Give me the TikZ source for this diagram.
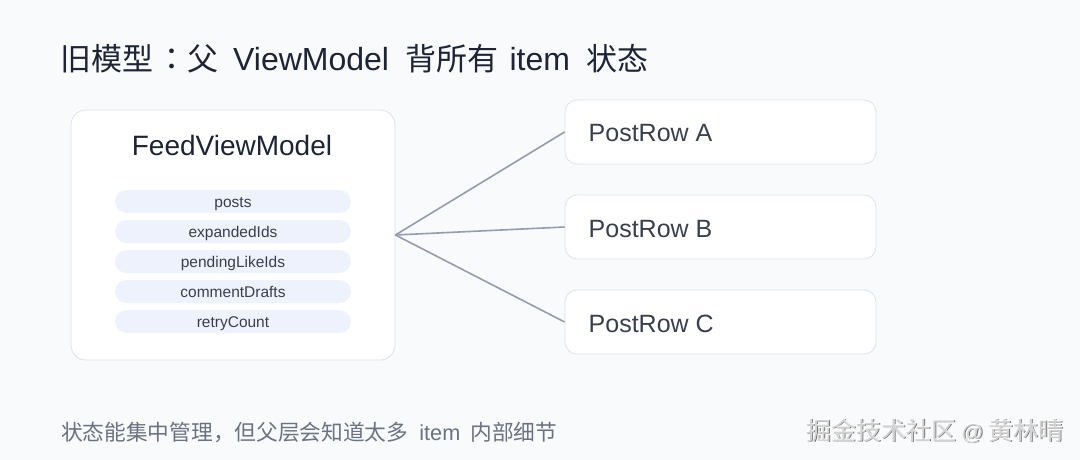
\documentclass[tikz,border=0pt]{standalone}
\usepackage{fontspec}
\setmainfont{Liberation Sans}
\newfontfamily\cjk{Noto Sans CJK SC}
\newfontfamily\cjktc{Noto Sans CJK TC}
\definecolor{bg}{HTML}{F8FAFC}
\definecolor{boxline}{HTML}{DEE2E9}
\definecolor{ink}{HTML}{1E2433}
\definecolor{txt}{HTML}{3A3F4D}
\definecolor{pill}{HTML}{EEF2FD}
\definecolor{conn}{HTML}{969CAE}
\definecolor{foot}{HTML}{6B7280}
\definecolor{wmfill}{HTML}{D2D2D2}
\definecolor{wmshade}{HTML}{6A6A6A}
\tikzset{
  card/.style={draw=boxline, line width=0.8pt, fill=white},
  pillbox/.style={fill=pill, rounded corners=11.5pt, minimum width=236pt, minimum height=23pt,
     inner sep=0pt, text height=11pt, text depth=0pt, font=\fontsize{15.5}{17}\selectfont, text=txt},
  rowbox/.style={card, rounded corners=12pt, minimum width=311pt, minimum height=64pt, inner sep=0pt},
  rowtext/.style={anchor=base west, font=\fontsize{25}{28}\selectfont, text=txt, inner sep=0pt},
  link/.style={draw=conn, line width=1.6pt},
  wmtext/.style={anchor=base east, inner sep=0pt, font=\cjk\fontsize{25}{28}\selectfont},
}
\newcommand{\wmark}{掘金技术社区\hspace{5pt}{\rmfamily\fontsize{22}{26}\selectfont @}\hspace{5pt}黄林晴}
\begin{document}
\begin{tikzpicture}[x=1pt,y=-1pt]
\fill[bg] (0,0) rectangle (1080,460);
\useasboundingbox (0,0) rectangle (1080,460);
% title
\node[anchor=base west, inner sep=0pt, text=ink, font=\fontsize{32}{36}\selectfont] (title) at (60.5,71)
  {{\cjk\fontsize{31}{36}\selectfont 旧模型}\hspace{3pt}{\cjktc\fontsize{31}{36}\selectfont ：}{\cjk\fontsize{31}{36}\selectfont 父}\hspace{14.5pt}ViewModel\hspace{16pt}{\cjk\fontsize{31}{36}\selectfont 背所有}\hspace{11.5pt}item\hspace{16pt}{\cjk\fontsize{31}{36}\selectfont 状态}};
% left card
\node[card, rounded corners=15pt, minimum width=324pt, minimum height=250pt, inner sep=0pt] (vm) at (233,235) {};
\node[anchor=base, text=ink, font=\fontsize{28}{32}\selectfont, inner sep=0pt] (vmt) at (232,155) {FeedViewModel};
\node[pillbox] (p1) at (233,201.5) {posts};
\node[pillbox] (p2) at (233,231.5) {expandedIds};
\node[pillbox] (p3) at (233,261.5) {pendingLikeIds};
\node[pillbox] (p4) at (233,291.5) {commentDrafts};
\node[pillbox] (p5) at (233,321.5) {retryCount};
% right rows
\node[rowbox] (ra) at (720.5,132) {};
\node[rowbox] (rb) at (720.5,227) {};
\node[rowbox] (rc) at (720.5,322) {};
\node[rowtext] (ta) at (588.5,142) {PostRow A};
\node[rowtext] (tb) at (588.5,237) {PostRow B};
\node[rowtext] (tc) at (588.5,332) {PostRow C};
% connectors
\coordinate (hub) at (vm.east);
\draw[link] (hub) -- (ra.west);
\draw[link] (hub) -- (rb.west);
\draw[link] (hub) -- (rc.west);
% footer
\node[anchor=base west, inner sep=0pt, text=foot, font=\fontsize{21.7}{24}\selectfont] (note) at (61,440.5)
  {{\cjk 状态能集中管理，但父层会知道太多}\hspace{11pt}item\hspace{10pt}{\cjk 内部细节}};
% watermark
\node[wmtext, text=wmshade] (wms) at (1064.8,440.8) {\wmark};
\node[wmtext, text=white] (wmh) at (1063.6,439.6) {\wmark};
\node[wmtext, text=wmfill] (wm) at (1064,440) {\wmark};
\end{tikzpicture}
\end{document}
